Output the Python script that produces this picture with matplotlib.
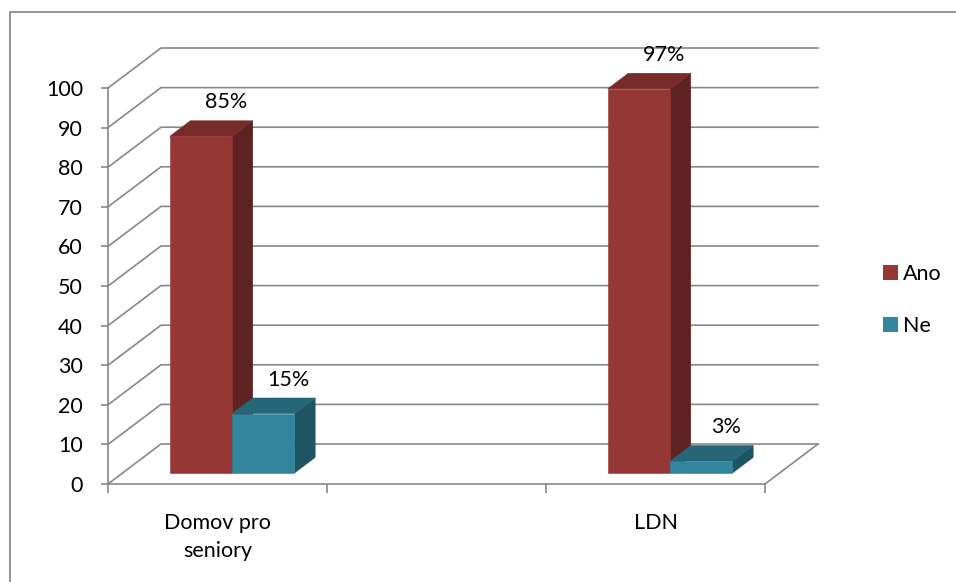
import numpy as np
import matplotlib
matplotlib.use("Agg")
import matplotlib.pyplot as plt
from matplotlib.patches import Polygon, Patch
from matplotlib.lines import Line2D

plt.rcParams['font.family'] = ['Lato', 'DejaVu Sans']

# Data (middle category is an empty slot)
categories = ["Domov pro\nseniory", "", "LDN"]
ano = [85, np.nan, 97]
ne = [15, np.nan, 3]
series_names = ["Ano", "Ne"]
yticks = list(range(0, 101, 10))

# Styling
grid_col = "#888888"
ano_cols = ("#953735", "#772C2A", "#5E2220")   # front, top, side
ne_cols = ("#31859C", "#256677", "#1F5462")
DX, DY = 0.242, 10.1        # full depth of the box, in data units
F0, F1 = 0.275, 0.665       # bar depth range as fraction of full depth
W = 0.285                   # width of one bar
FS = 15.5

fig = plt.figure(figsize=(9.56, 5.82), dpi=100)
W_PX, H_PX = 956, 582
ax = fig.add_axes([108 / W_PX, (H_PX - 484) / H_PX, 657 / W_PX, 396 / H_PX])
ax.set_xlim(0, len(categories))
ax.set_ylim(0, 100)
ax.set_facecolor("none")

# back wall + left wall gridlines
for v in yticks:
    ax.plot([0, DX, len(categories) + DX], [v, v + DY, v + DY],
            color=grid_col, lw=1.2, clip_on=False, zorder=1)
# floor right edge
ax.plot([len(categories), len(categories) + DX], [0, DY],
        color=grid_col, lw=1.2, clip_on=False, zorder=1)


def box(x0, x1, h, cols):
    ax0, ay0 = F0 * DX, F0 * DY
    bx0, by0 = F1 * DX, F1 * DY
    front = [(x0 + ax0, ay0), (x1 + ax0, ay0), (x1 + ax0, h + ay0), (x0 + ax0, h + ay0)]
    top = [(x0 + ax0, h + ay0), (x1 + ax0, h + ay0), (x1 + bx0, h + by0), (x0 + bx0, h + by0)]
    side = [(x1 + ax0, ay0), (x1 + bx0, by0), (x1 + bx0, h + by0), (x1 + ax0, h + ay0)]
    for pts, c in ((side, cols[2]), (top, cols[1]), (front, cols[0])):
        ax.add_patch(Polygon(pts, closed=True, facecolor=c, edgecolor=c,
                             lw=0.4, clip_on=False, zorder=3))
    ax.annotate(f"{h:g}%", ((x0 + x1) / 2 + ax0, h + ay0), xytext=(25, 34),
                textcoords="offset pixels", ha="center", va="center",
                fontsize=FS, annotation_clip=False, zorder=5)


for i in range(len(categories)):
    c = i + 0.5
    if not np.isnan(ano[i]):
        box(c - W, c, ano[i], ano_cols)
    if not np.isnan(ne[i]):
        box(c, c + W, ne[i], ne_cols)

# axes styling
for s in ("top", "right"):
    ax.spines[s].set_visible(False)
for s in ("left", "bottom"):
    ax.spines[s].set_color(grid_col)
    ax.spines[s].set_linewidth(1.2)
ax.set_yticks(yticks)
ax.tick_params(axis="y", length=5, width=1.2, color=grid_col, pad=13, labelsize=FS)
ax.set_xticks(range(len(categories) + 1))
ax.set_xticklabels([])
ax.set_xticks([i + 0.5 for i in range(len(categories))], minor=True)
ax.set_xticklabels(categories, minor=True, fontsize=FS, linespacing=1.5)
ax.tick_params(axis="x", which="major", length=6.5, width=1.2, color=grid_col)
ax.tick_params(axis="x", which="minor", length=0, pad=21)

# legend
handles = [Patch(facecolor=ano_cols[0]), Patch(facecolor=ne_cols[0])]
fig.legend(handles, series_names, loc="center left",
           bbox_to_anchor=(864 / W_PX, (H_PX - 300) / H_PX), frameon=False,
           fontsize=FS, handlelength=0.7, handleheight=0.7,
           handletextpad=0.2, labelspacing=1.45)

# chart area border (top and left edges visible)
fig.add_artist(Line2D([10 / W_PX, 10 / W_PX, 1], [0, 1 - 12 / H_PX, 1 - 12 / H_PX],
                      transform=fig.transFigure, color="#8c8c8c", lw=1.3))

fig.savefig("out.png", dpi=100, facecolor="white")
